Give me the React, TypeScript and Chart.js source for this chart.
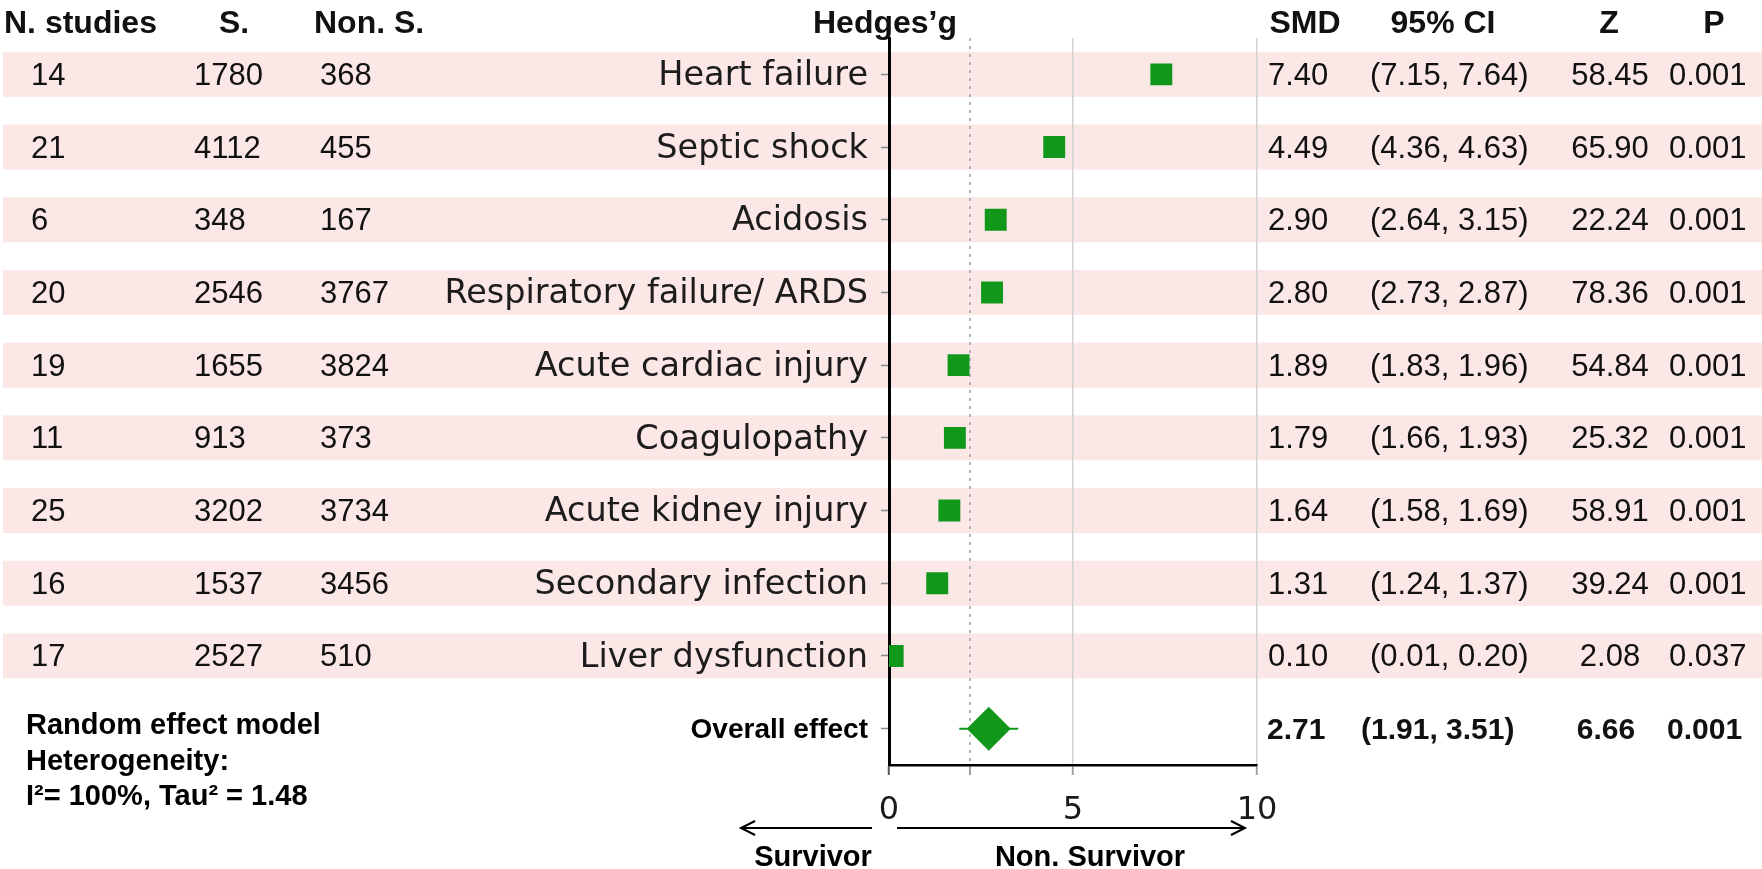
import React, { useEffect, useRef } from 'react';
import { Chart, registerables } from 'chart.js';

Chart.register(...registerables);

// ---------- data ----------
const categories = [
  'Heart failure',
  'Septic shock',
  'Acidosis',
  'Respiratory failure/ ARDS',
  'Acute cardiac injury',
  'Coagulopathy',
  'Acute kidney injury',
  'Secondary infection',
  'Liver dysfunction',
];
const overallLabel = 'Overall effect';
const nStudies = [14, 21, 6, 20, 19, 11, 25, 16, 17];
const survivors = [1780, 4112, 348, 2546, 1655, 913, 3202, 1537, 2527];
const nonSurvivors = [368, 455, 167, 3767, 3824, 373, 3734, 3456, 510];
const smd = [7.4, 4.49, 2.9, 2.8, 1.89, 1.79, 1.64, 1.31, 0.1];
const ciLow = [7.15, 4.36, 2.64, 2.73, 1.83, 1.66, 1.58, 1.24, 0.01];
const ciHigh = [7.64, 4.63, 3.15, 2.87, 1.96, 1.93, 1.69, 1.37, 0.2];
const zValues = [58.45, 65.9, 22.24, 78.36, 54.84, 25.32, 58.91, 39.24, 2.08];
const pValues = ['0.001', '0.001', '0.001', '0.001', '0.001', '0.001', '0.001', '0.001', '0.037'];
const overallSmd = 2.71;
const overallCiLow = 1.91;
const overallCiHigh = 3.51;
const overallZ = 6.66;
const overallP = '0.001';
const xTickValues = [0, 2.2, 5, 10];
const xTickLabels = ['0', '', '5', '10'];
const noteLines = ['Random effect model', 'Heterogeneity:', 'I\u00B2= 100%, Tau\u00B2 = 1.48'];

// ---------- styles ----------
const GREEN = '#11981A';
const BAND = '#FCE7E7';
const SANS = '"Liberation Sans", Arial, sans-serif';
const DEJAVU = '"DejaVu Sans", Verdana, sans-serif';
const HEADER_FONT = `bold 32px ${SANS}`;
const VALUE_FONT = `31px ${SANS}`;
const BOLD_VALUE_FONT = `bold 30px ${SANS}`;
const NOTE_FONT = `bold 29px ${SANS}`;

const yLabels = [...categories, overallLabel];

function txt(ctx: CanvasRenderingContext2D, s: string, x: number, y: number, font: string, align: CanvasTextAlign = 'left', color = '#111') {
  ctx.font = font;
  ctx.textAlign = align;
  ctx.textBaseline = 'middle';
  ctx.fillStyle = color;
  ctx.fillText(s, x, y);
}

const forestPlugin = {
  id: 'forestTable',
  beforeDraw(chart: any) {
    const { ctx } = chart;
    const y = chart.scales.y;
    ctx.save();
    ctx.fillStyle = '#ffffff';
    ctx.fillRect(0, 0, chart.width, chart.height);
    ctx.fillStyle = BAND;
    categories.forEach((_, i) => {
      const py = y.getPixelForValue(i);
      ctx.fillRect(3, py - 22.5, chart.width - 3, 45);
    });
    ctx.restore();
  },
  beforeDatasetsDraw(chart: any) {
    const { ctx } = chart;
    const x = chart.scales.x;
    const y = chart.scales.y;
    ctx.save();
    ctx.strokeStyle = GREEN;
    ctx.lineWidth = 2;
    const lows = [...ciLow, overallCiLow];
    const highs = [...ciHigh, overallCiHigh];
    lows.forEach((lo, i) => {
      const py = y.getPixelForValue(i);
      ctx.beginPath();
      ctx.moveTo(x.getPixelForValue(lo), py);
      ctx.lineTo(x.getPixelForValue(highs[i]), py);
      ctx.stroke();
    });
    ctx.restore();
  },
  afterDraw(chart: any) {
    const { ctx } = chart;
    const x = chart.scales.x;
    const y = chart.scales.y;
    ctx.save();
    // headers
    const hy = 24;
    txt(ctx, 'N. studies', 4, hy, HEADER_FONT);
    txt(ctx, 'S.', 234, hy, HEADER_FONT, 'center');
    txt(ctx, 'Non. S.', 314, hy, HEADER_FONT);
    txt(ctx, 'Hedges\u2019g', 885, hy, HEADER_FONT, 'center');
    txt(ctx, 'SMD', 1305, hy, HEADER_FONT, 'center');
    txt(ctx, '95% CI', 1443, hy, HEADER_FONT, 'center');
    txt(ctx, 'Z', 1609, hy, HEADER_FONT, 'center');
    txt(ctx, 'P', 1714, hy, HEADER_FONT, 'center');
    // rows
    categories.forEach((_, i) => {
      const py = y.getPixelForValue(i) + 2;
      txt(ctx, String(nStudies[i]), 31, py, VALUE_FONT);
      txt(ctx, String(survivors[i]), 194, py, VALUE_FONT);
      txt(ctx, String(nonSurvivors[i]), 320, py, VALUE_FONT);
      txt(ctx, smd[i].toFixed(2), 1268, py, VALUE_FONT);
      txt(ctx, `(${ciLow[i].toFixed(2)}, ${ciHigh[i].toFixed(2)})`, 1370, py, VALUE_FONT);
      txt(ctx, zValues[i].toFixed(2), 1610, py, VALUE_FONT, 'center');
      txt(ctx, pValues[i], 1669, py, VALUE_FONT);
    });
    const oy = y.getPixelForValue(categories.length) + 2;
    txt(ctx, overallSmd.toFixed(2), 1267, oy, BOLD_VALUE_FONT);
    txt(ctx, `(${overallCiLow.toFixed(2)}, ${overallCiHigh.toFixed(2)})`, 1361, oy, BOLD_VALUE_FONT);
    txt(ctx, overallZ.toFixed(2), 1606, oy, BOLD_VALUE_FONT, 'center');
    txt(ctx, overallP, 1667, oy, BOLD_VALUE_FONT);
    // notes
    noteLines.forEach((s, i) => txt(ctx, s, 26, 726 + i * 35.5, NOTE_FONT, 'left', '#000'));
    // arrows
    const x0 = x.getPixelForValue(0);
    const x10 = x.getPixelForValue(10);
    const ay = 828;
    ctx.strokeStyle = '#000';
    ctx.lineWidth = 2;
    ctx.beginPath();
    ctx.moveTo(x0 - 17, ay);
    ctx.lineTo(x0 - 148, ay);
    ctx.moveTo(x0 - 134, ay - 7);
    ctx.lineTo(x0 - 148, ay);
    ctx.lineTo(x0 - 134, ay + 7);
    ctx.moveTo(x0 + 8, ay);
    ctx.lineTo(x10 - 12, ay);
    ctx.moveTo(x10 - 26, ay - 7);
    ctx.lineTo(x10 - 12, ay);
    ctx.lineTo(x10 - 26, ay + 7);
    ctx.stroke();
    txt(ctx, 'Survivor', x0 - 76, 858, NOTE_FONT, 'center', '#000');
    txt(ctx, 'Non. Survivor', 1090, 858, NOTE_FONT, 'center', '#000');
    ctx.restore();
  },
};

export default function App() {
  const ref = useRef<HTMLCanvasElement | null>(null);
  useEffect(() => {
    if (!ref.current) return;
    const chart = new Chart(ref.current, {
      type: 'scatter',
      data: {
        datasets: [
          {
            data: categories.map((c, i) => ({ x: smd[i], y: c })) as any,
            pointStyle: 'rect',
            pointRadius: 15.5,
            backgroundColor: GREEN,
            borderWidth: 0,
          },
          {
            data: [{ x: overallSmd, y: overallLabel }] as any,
            pointStyle: 'rectRot',
            pointRadius: 22,
            backgroundColor: GREEN,
            borderWidth: 0,
          },
        ],
      },
      options: {
        animation: false,
        responsive: true,
        maintainAspectRatio: false,
        events: [],
        layout: { padding: { left: 0, right: 505, top: 38, bottom: 0 } },
        plugins: { legend: { display: false }, tooltip: { enabled: false } },
        scales: {
          x: {
            type: 'linear',
            min: 0,
            max: 10,
            afterBuildTicks: (s: any) => {
              s.ticks = xTickValues.map((v) => ({ value: v }));
            },
            afterFit: (s: any) => {
              s.height = 104;
            },
            ticks: {
              autoSkip: false,
              maxRotation: 0,
              padding: 16,
              color: '#1a1a1a',
              font: { family: DEJAVU, size: 32 },
              callback: (_v: any, i: number) => xTickLabels[i],
            },
            grid: {
              drawTicks: true,
              tickLength: 10,
              tickWidth: 2,
              lineWidth: (c: any) => (c.tick && c.tick.value === 2.2 ? 2 : 1.5),
              color: (c: any) =>
                c.tick && c.tick.value === 0 ? 'rgba(0,0,0,0)' : c.tick && c.tick.value === 2.2 ? '#b4b4b4' : '#d2d2d2',
              tickColor: (c: any) => (c.tick && c.tick.value === 0 ? '#555' : '#a0a0a0'),
            },
            border: {
              display: true,
              color: '#000',
              width: 2.5,
              dash: (c: any) => (c.tick && c.tick.value === 2.2 ? [3, 5] : []),
            },
          },
          y: {
            type: 'category',
            labels: yLabels,
            offset: true,
            afterFit: (s: any) => {
              s.width = 889;
            },
            ticks: {
              autoSkip: false,
              padding: 13,
              labelOffset: 2,
              color: (c: any) => (c.index === categories.length ? '#000' : '#1c1c1c'),
              font: (c: any) =>
                c.index === categories.length
                  ? { family: SANS, size: 28, weight: 'bold' }
                  : { family: DEJAVU, size: 33.5 },
            },
            grid: {
              offset: false,
              drawOnChartArea: false,
              drawTicks: true,
              tickLength: 8,
              tickWidth: 1.5,
              tickColor: '#8a8a8a',
            },
            border: { display: true, color: '#000', width: 3 },
          },
        },
      } as any,
      plugins: [forestPlugin],
    });
    return () => chart.destroy();
  }, []);
  return (
    <div style={{ position: 'absolute', left: 0, top: 0, width: 1762, height: 869, background: '#fff' }}>
      <canvas ref={ref} />
    </div>
  );
}
